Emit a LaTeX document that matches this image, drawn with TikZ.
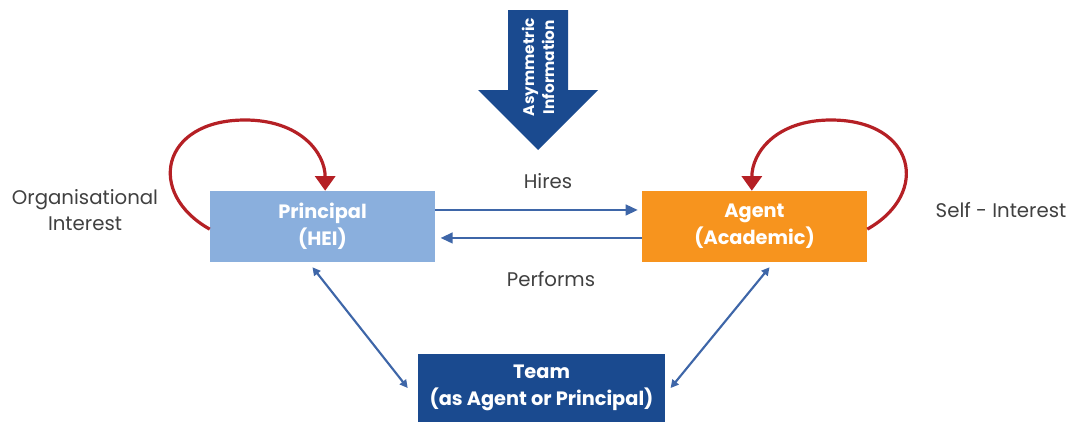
\documentclass[tikz,border=0pt]{standalone}
\usepackage{fontspec}
\setmainfont{Poppins}
\usetikzlibrary{arrows.meta,positioning}

\definecolor{heiblue}{HTML}{8AAFDD}
\definecolor{agentorange}{HTML}{F7941E}
\definecolor{teamblue}{HTML}{1A4A8F}
\definecolor{flowblue}{HTML}{3E66A8}
\definecolor{selfred}{HTML}{B52025}
\definecolor{labelgray}{HTML}{404040}

\begin{document}
\begin{tikzpicture}[x=0.75pt,y=-0.75pt,node distance=324pt,on grid,
  box/.style={minimum width=168.75pt,minimum height=53.25pt,inner sep=0pt,align=center,
    text=white,font=\bfseries\fontsize{14.5}{20.5}\selectfont},
  lbl/.style={text=labelgray,align=center,font=\fontsize{14.8}{20}\selectfont},
  link/.style={draw=flowblue,line width=1.6pt,-{Triangle[length=9pt,width=8pt]}},
  duo/.style={draw=flowblue,line width=1.6pt,{Triangle[length=6pt,width=6pt]}-{Triangle[length=6pt,width=6pt]}},
  selfloop/.style={draw=selfred,line width=2.4pt,-{Triangle[length=11pt,width=15pt]}}]
  \useasboundingbox (0,0) rectangle (1070,422);

  % the three parties
  \node[box,fill=heiblue]     (principal) at (322.5,226.5) {Principal\\(HEI)};
  \node[box,fill=agentorange] (agent)     [right=of principal] {Agent\\(Academic)};
  \node[box,fill=teamblue,minimum width=185.25pt,minimum height=51pt] (team) at (541.5,388) {Team\\(as Agent or Principal)};

  % asymmetric information arrow
  \fill[teamblue] (508,10) -- (568,10) -- (568,90) -- (598,90) -- (538,150) -- (478,90) -- (508,90) -- cycle;
  \node[rotate=90,text=white,align=center,font=\bfseries\fontsize{11.5}{15}\selectfont] (asym) at (538,67) {Asymmetric\\Information};

  % labels
  \node[lbl] (hires)    at (548,181) {Hires};
  \node[lbl] (performs) at (551,279) {Performs};
  \node[lbl] (orgint)   at (85,210)  {Organisational\\Interest};
  \node[lbl] (selfint)  at (1001,210) {Self - Interest};

  % contract flows
  \draw[link,shorten >=3pt] ([yshift=12.4pt]principal.east) -- ([yshift=12.4pt]agent.west);
  \draw[link,shorten >=4pt] ([yshift=-8.6pt]agent.west) -- ([yshift=-8.6pt]principal.east);
  \draw[duo] ([shift={(-10,5)}]principal.south) -- ([xshift=-7.5pt]team.west);
  \draw[duo] ([shift={(15,5)}]agent.south) -- ([xshift=4pt]team.east);

  % interests
  \draw[selfloop] ([yshift=-2pt]principal.west) .. controls +(-64,-36) and +(-84,0) .. (245,120)
    .. controls +(55,0) and +(0,-38) .. ([xshift=2pt]principal.north);
  \draw[selfloop] ([yshift=-2pt]agent.east) .. controls +(64,-36) and +(84,0) .. (831,120)
    .. controls +(-55,0) and +(0,-38) .. ([xshift=-2pt]agent.north);
\end{tikzpicture}
\end{document}
